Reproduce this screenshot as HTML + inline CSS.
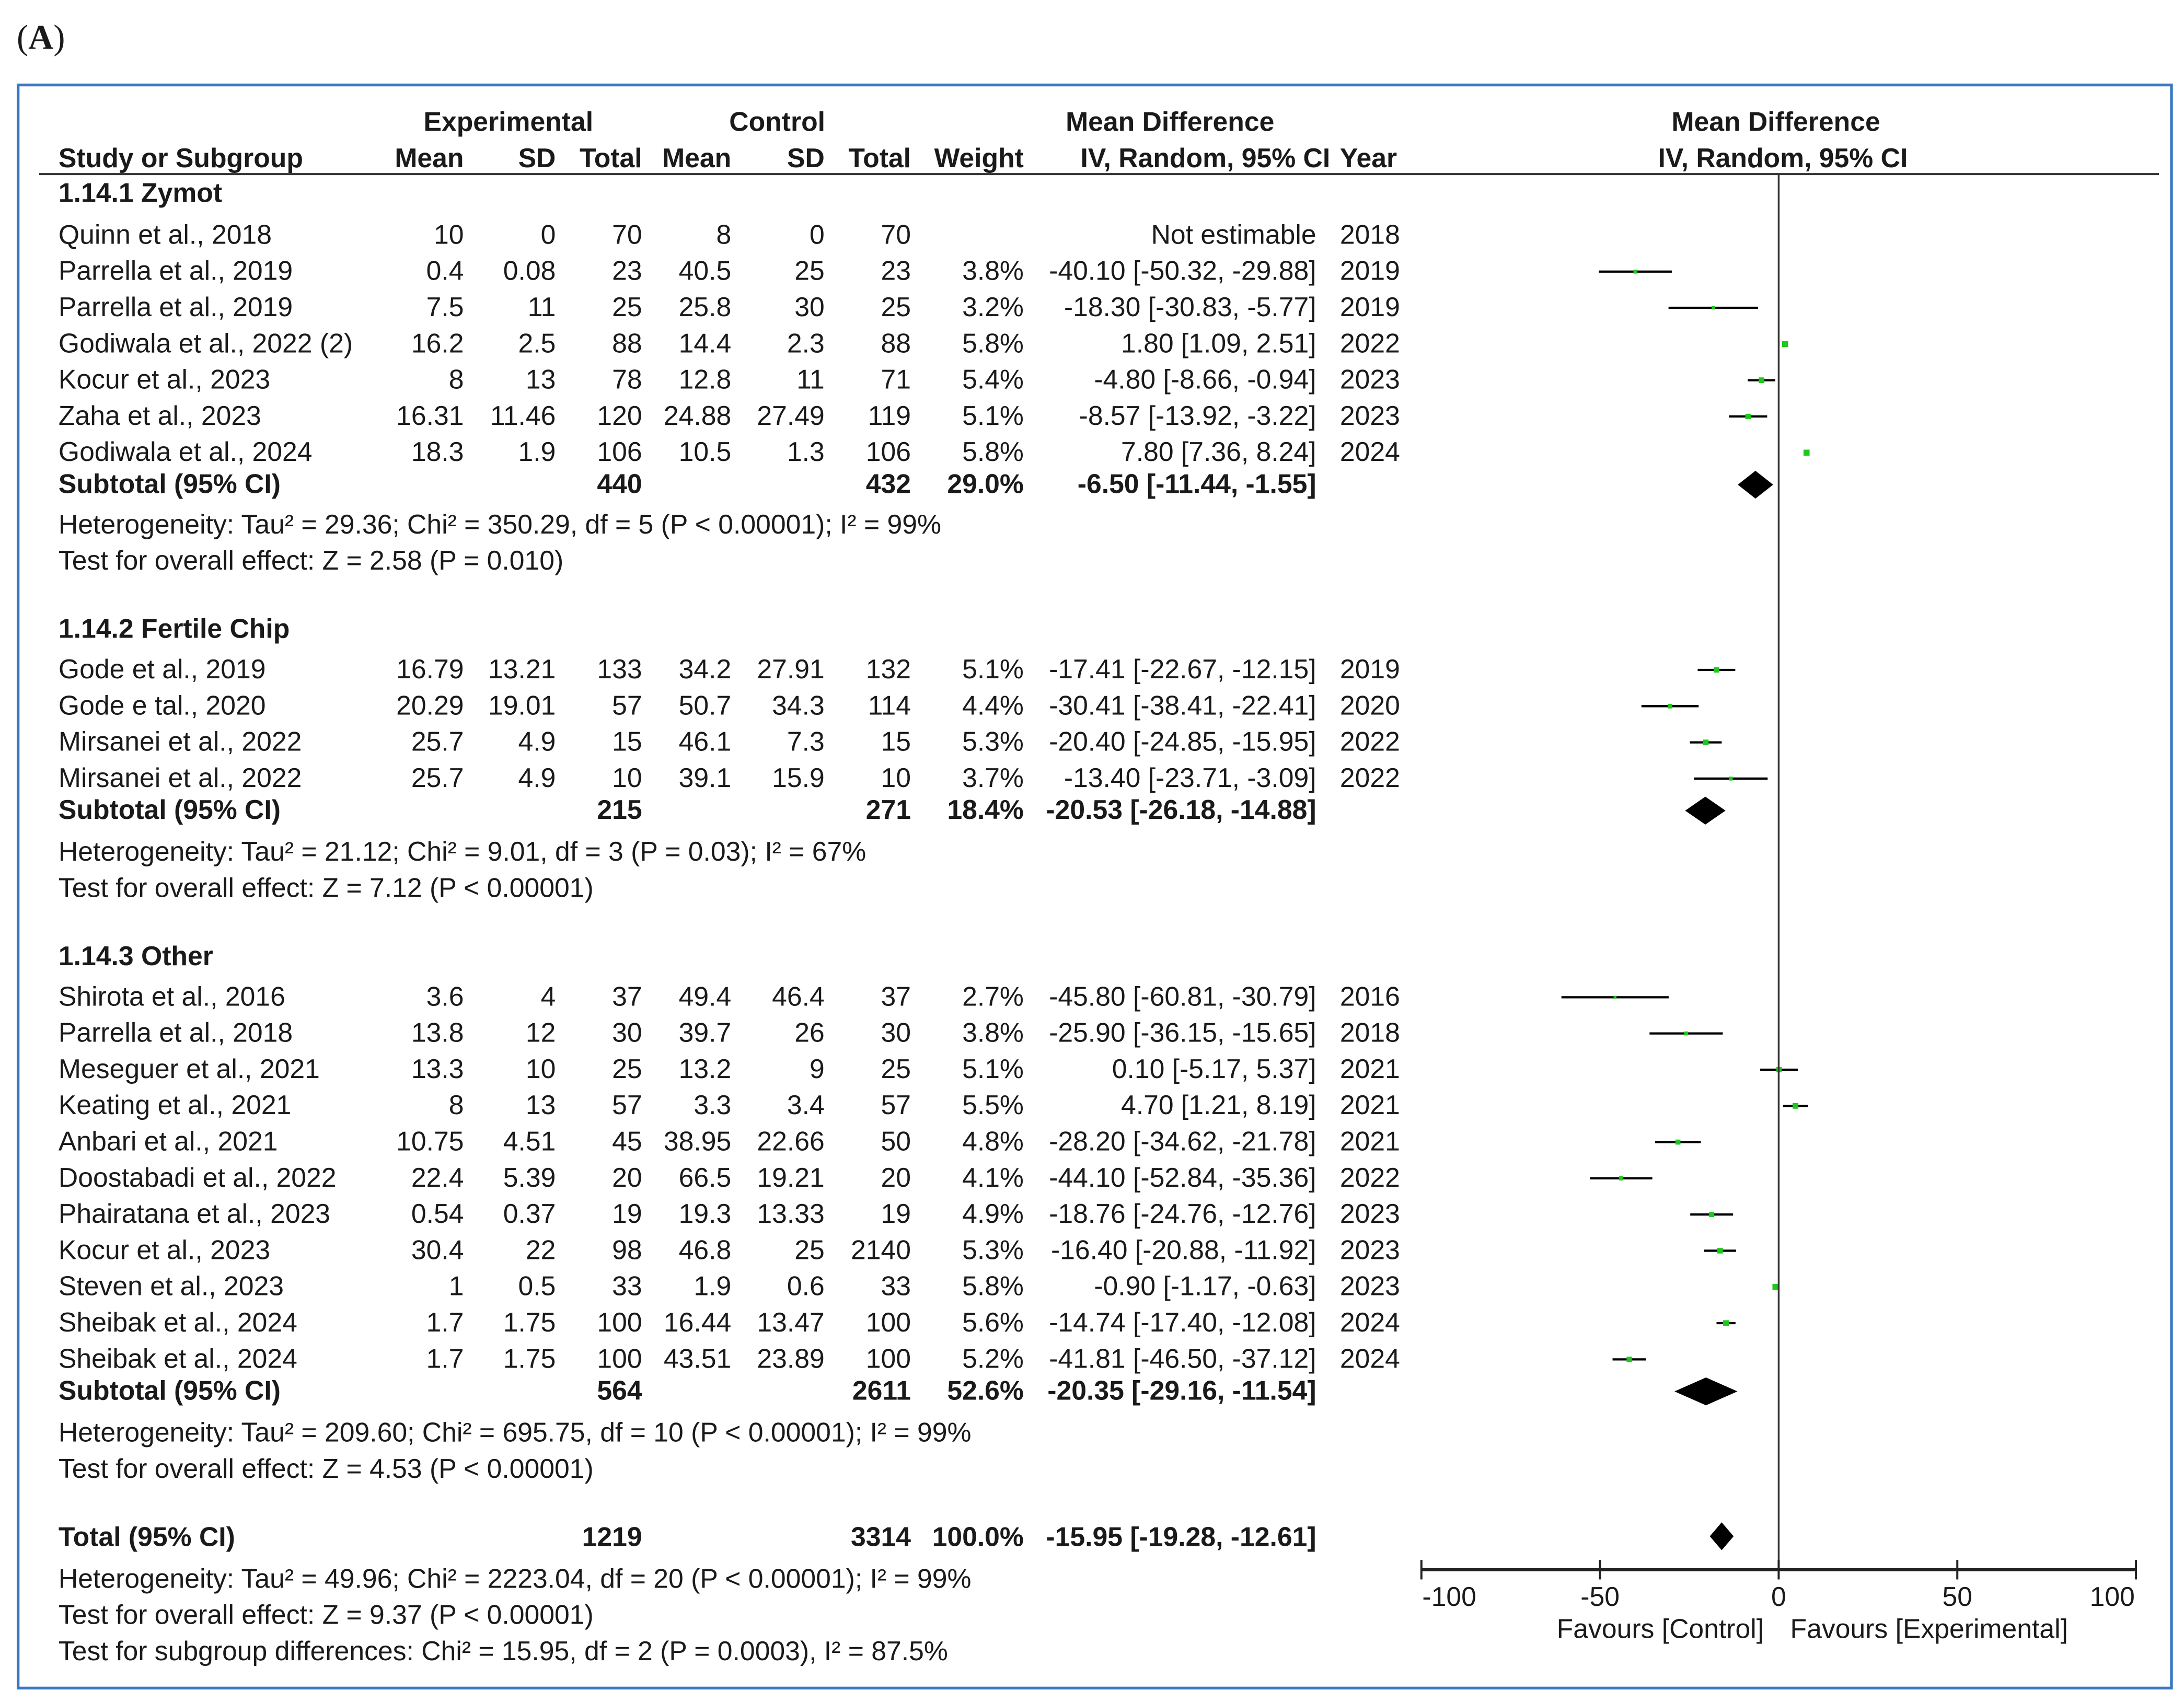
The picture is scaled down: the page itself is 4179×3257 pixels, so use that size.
<!DOCTYPE html>
<html><head><meta charset="utf-8"><style>
html,body{margin:0;padding:0;background:#fff}
svg{display:block}
text{font-family:"Liberation Sans",Arial,sans-serif;font-size:19.4px;fill:#1a1a1a}
.b{font-weight:bold}
</style></head><body>
<svg id="chart" width="4179" height="3257" viewBox="0 0 1568 1222" preserveAspectRatio="none" xmlns="http://www.w3.org/2000/svg">
<text x="12" y="35" style="font-family:'Liberation Serif',serif;font-size:25px">(<tspan font-weight="bold">A</tspan>)</text>
<rect x="13" y="61" width="1546" height="1151" fill="none" stroke="#3b78c2" stroke-width="2"/>
<g id="hdr">
<text x="365" y="94" text-anchor="middle" class="b">Experimental</text>
<text x="558" y="94" text-anchor="middle" class="b">Control</text>
<text x="840" y="94" text-anchor="middle" class="b">Mean Difference</text>
<text x="1275" y="94" text-anchor="middle" class="b">Mean Difference</text>
<text x="42" y="120" class="b">Study or Subgroup</text>
<text x="333" y="120" text-anchor="end" class="b">Mean</text>
<text x="399" y="120" text-anchor="end" class="b">SD</text>
<text x="461" y="120" text-anchor="end" class="b">Total</text>
<text x="525" y="120" text-anchor="end" class="b">Mean</text>
<text x="592" y="120" text-anchor="end" class="b">SD</text>
<text x="654" y="120" text-anchor="end" class="b">Total</text>
<text x="735" y="120" text-anchor="end" class="b">Weight</text>
<text x="955" y="120" text-anchor="end" class="b">IV, Random, 95% CI</text>
<text x="962" y="120" class="b">Year</text>
<text x="1280" y="120" text-anchor="middle" class="b">IV, Random, 95% CI</text>
</g>
<line x1="28" y1="125" x2="1550" y2="125" stroke="#333" stroke-width="1.5"/>
<g id="rows"></g>
<g id="plot"></g>
</svg>
<script>
const studyNames=["Quinn et al., 2018","Parrella et al., 2019","Parrella et al., 2019","Godiwala et al., 2022 (2)","Kocur et al., 2023","Zaha et al., 2023","Godiwala et al., 2024","Gode et al., 2019","Gode e tal., 2020","Mirsanei et al., 2022","Mirsanei et al., 2022","Shirota et al., 2016","Parrella et al., 2018","Meseguer et al., 2021","Keating et al., 2021","Anbari et al., 2021","Doostabadi et al., 2022","Phairatana et al., 2023","Kocur et al., 2023","Steven et al., 2023","Sheibak et al., 2024","Sheibak et al., 2024"];
const expMean=["10","0.4","7.5","16.2","8","16.31","18.3","16.79","20.29","25.7","25.7","3.6","13.8","13.3","8","10.75","22.4","0.54","30.4","1","1.7","1.7"];
const expSD=["0","0.08","11","2.5","13","11.46","1.9","13.21","19.01","4.9","4.9","4","12","10","13","4.51","5.39","0.37","22","0.5","1.75","1.75"];
const expN=["70","23","25","88","78","120","106","133","57","15","10","37","30","25","57","45","20","19","98","33","100","100"];
const ctlMean=["8","40.5","25.8","14.4","12.8","24.88","10.5","34.2","50.7","46.1","39.1","49.4","39.7","13.2","3.3","38.95","66.5","19.3","46.8","1.9","16.44","43.51"];
const ctlSD=["0","25","30","2.3","11","27.49","1.3","27.91","34.3","7.3","15.9","46.4","26","9","3.4","22.66","19.21","13.33","25","0.6","13.47","23.89"];
const ctlN=["70","23","25","88","71","119","106","132","114","15","10","37","30","25","57","50","20","19","2140","33","100","100"];
const weights=[null,3.8,3.2,5.8,5.4,5.1,5.8,5.1,4.4,5.3,3.7,2.7,3.8,5.1,5.5,4.8,4.1,4.9,5.3,5.8,5.6,5.2];
const md=[null,-40.10,-18.30,1.80,-4.80,-8.57,7.80,-17.41,-30.41,-20.40,-13.40,-45.80,-25.90,0.10,4.70,-28.20,-44.10,-18.76,-16.40,-0.90,-14.74,-41.81];
const lo=[null,-50.32,-30.83,1.09,-8.66,-13.92,7.36,-22.67,-38.41,-24.85,-23.71,-60.81,-36.15,-5.17,1.21,-34.62,-52.84,-24.76,-20.88,-1.17,-17.40,-46.50];
const hi=[null,-29.88,-5.77,2.51,-0.94,-3.22,8.24,-12.15,-22.41,-15.95,-3.09,-30.79,-15.65,5.37,8.19,-21.78,-35.36,-12.76,-11.92,-0.63,-12.08,-37.12];
const years=["2018","2019","2019","2022","2023","2023","2024","2019","2020","2022","2022","2016","2018","2021","2021","2021","2022","2023","2023","2023","2024","2024"];
const rowY=[169,195,221,247,273,299,325,481,507,533,559,716,742,768,794,820,846,872,898,924,950,976];
const groupTitles=["1.14.1 Zymot","1.14.2 Fertile Chip","1.14.3 Other"];
const subExpN=["440","215","564"];
const subCtlN=["432","271","2611"];
const subW=["29.0%","18.4%","52.6%"];
const subMd=[-6.50,-20.53,-20.35];
const subLo=[-11.44,-26.18,-29.16];
const subHi=[-1.55,-14.88,-11.54];
const subHet=["Heterogeneity: Tau² = 29.36; Chi² = 350.29, df = 5 (P < 0.00001); I² = 99%","Heterogeneity: Tau² = 21.12; Chi² = 9.01, df = 3 (P = 0.03); I² = 67%","Heterogeneity: Tau² = 209.60; Chi² = 695.75, df = 10 (P < 0.00001); I² = 99%"];
const subTest=["Test for overall effect: Z = 2.58 (P = 0.010)","Test for overall effect: Z = 7.12 (P < 0.00001)","Test for overall effect: Z = 4.53 (P < 0.00001)"];
const totalMd=-15.95, totalLo=-19.28, totalHi=-12.61;
const tickVals=[-100,-50,0,50,100];
const tickLabels=["-100","-50","0","50","100"];

const NS="http://www.w3.org/2000/svg";
const rows=document.getElementById('rows'), plot=document.getElementById('plot');
const xs=v=>1277+v*2.565;
function el(tag,attrs,parent,txt){const e=document.createElementNS(NS,tag);for(const k in attrs)e.setAttribute(k,attrs[k]);if(txt!==undefined)e.textContent=txt;parent.appendChild(e);return e;}
function txt(x,y,s,anchor,bold,name){const e=el('text',{x:x,y:y+6,'text-anchor':anchor||'start'},rows,s);if(bold)e.setAttribute('class','b');

return e;}
const f2=v=>v.toFixed(2);
studyNames.forEach((n,i)=>{
 const y=rowY[i];
 txt(42,y,n,'start',false,'study-name');
 txt(333,y,expMean[i],'end',false,'exp-mean');
 txt(399,y,expSD[i],'end',false,'exp-sd');
 txt(461,y,expN[i],'end',false,'exp-total');
 txt(525,y,ctlMean[i],'end',false,'ctl-mean');
 txt(592,y,ctlSD[i],'end',false,'ctl-sd');
 txt(654,y,ctlN[i],'end',false,'ctl-total');
 if(md[i]===null){txt(945,y,'Not estimable','end',false,'effect-ci');}
 else{
  txt(735,y,weights[i].toFixed(1)+'%','end',false,'weight');
  txt(945,y,f2(md[i])+' ['+f2(lo[i])+', '+f2(hi[i])+']','end',false,'effect-ci');
  const l=el('line',{x1:xs(lo[i]),x2:xs(hi[i]),y1:y,y2:y,stroke:'#000','stroke-width':1.6},plot);
  
  
  const s=weights[i]*0.75;
  const r=el('rect',{x:xs(md[i])-s/2,y:y-s/2,width:s,height:s,fill:'#1ec81e'},plot);
  
  
 }
 txt(962,y,years[i],'start',false,'year');
});
const groupY=[139,452,687], subY=[348,582,999], hetY=[377,612,1029], testY=[403,638,1055];
function diamond(m,l,h,y,name){const d=el('polygon',{points:`${xs(l)},${y} ${xs(m)},${y-10} ${xs(h)},${y} ${xs(m)},${y+10}`,fill:'#000'},plot);
 
 }
groupTitles.forEach((g,i)=>{
 txt(42,groupY[i],g,'start',true,'subgroup-title');
 txt(42,subY[i],'Subtotal (95% CI)','start',true,'subtotal-label');
 txt(461,subY[i],subExpN[i],'end',true,'subtotal-exp-total');
 txt(654,subY[i],subCtlN[i],'end',true,'subtotal-ctl-total');
 txt(735,subY[i],subW[i],'end',true,'subtotal-weight');
 txt(945,subY[i],f2(subMd[i])+' ['+f2(subLo[i])+', '+f2(subHi[i])+']','end',true,'subtotal-ci');
 txt(42,hetY[i],subHet[i],'start',false,'heterogeneity');
 txt(42,testY[i],subTest[i],'start',false,'overall-effect');
 diamond(subMd[i],subLo[i],subHi[i],subY[i],'subtotal-diamond');
});
txt(42,1104,'Total (95% CI)','start',true,'total-label');
txt(461,1104,'1219','end',true,'total-exp');
txt(654,1104,'3314','end',true,'total-ctl');
txt(735,1104,'100.0%','end',true,'total-weight');
txt(945,1104,f2(totalMd)+' ['+f2(totalLo)+', '+f2(totalHi)+']','end',true,'total-ci');
txt(42,1134,'Heterogeneity: Tau² = 49.96; Chi² = 2223.04, df = 20 (P < 0.00001); I² = 99%','start',false,'total-heterogeneity');
txt(42,1160,'Test for overall effect: Z = 9.37 (P < 0.00001)','start',false,'total-effect');
txt(42,1186,'Test for subgroup differences: Chi² = 15.95, df = 2 (P = 0.0003), I² = 87.5%','start',false,'subgroup-differences');
diamond(totalMd,totalLo,totalHi,1103,'total-diamond');
const z=el('line',{x1:xs(0),x2:xs(0),y1:125,y2:1127,stroke:'#333','stroke-width':1.3},plot);


const ax=el('line',{x1:xs(-100),x2:xs(100),y1:1127,y2:1127,stroke:'#222','stroke-width':2.2},plot);


const labelShift=[20,0,0,0,-17];
tickVals.forEach((v,i)=>{
 const t=el('line',{x1:xs(v),x2:xs(v),y1:1120,y2:1134,stroke:'#222','stroke-width':1.5},plot);
 
 
 const l=el('text',{x:xs(v)+labelShift[i],y:1153,'text-anchor':'middle'},plot,tickLabels[i]);
 
 
});
const fc=el('text',{x:1192,y:1176,'text-anchor':'middle',fill:'#444'},plot,'Favours [Control]');


const fe=el('text',{x:1385,y:1176,'text-anchor':'middle',fill:'#444'},plot,'Favours [Experimental]');


</script>
</body></html>
